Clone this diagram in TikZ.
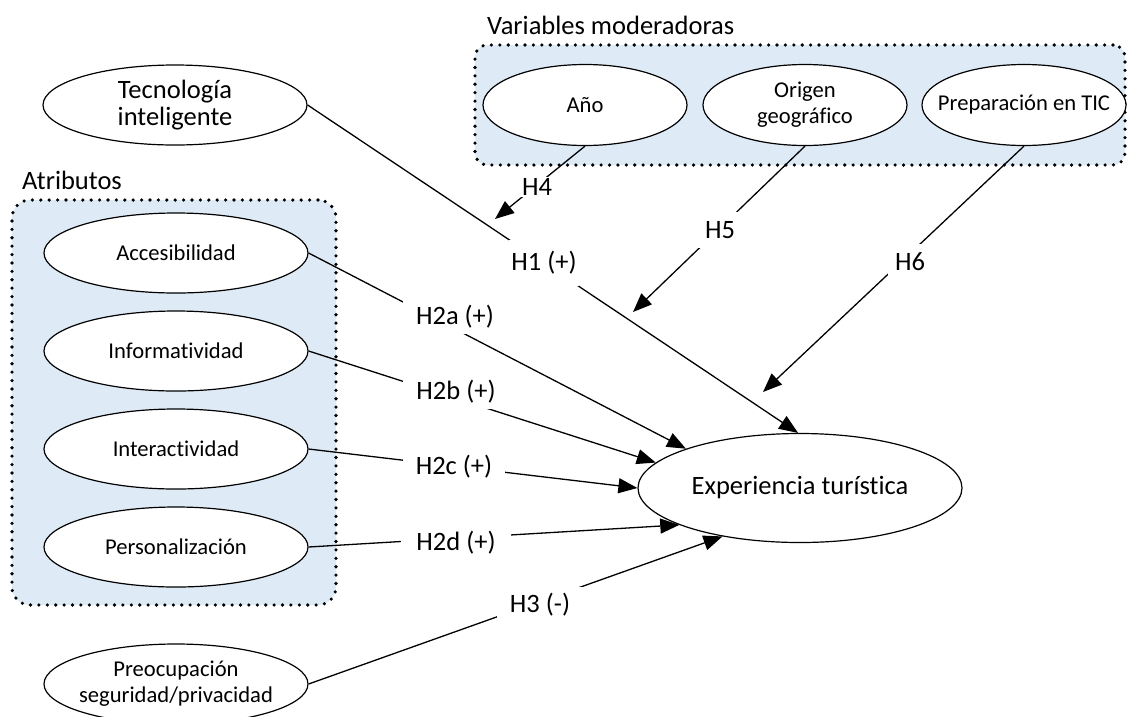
\documentclass[tikz,border=0pt]{standalone}
\usepackage{fontspec}
\setmainfont{Carlito}[Ligatures=NoCommon]
\usetikzlibrary{shapes.geometric,arrows.meta}
\definecolor{boxfill}{RGB}{222,235,247}
\begin{document}
\begin{tikzpicture}[x=1pt,y=-1pt,
  bigtext/.style={font=\fontsize{26.5}{27}\selectfont},
  smalltext/.style={font=\fontsize{22.6}{26}\selectfont},
  oval/.style={ellipse,draw,fill=white,line width=1.2pt,inner sep=0pt},
  wideoval/.style={oval,minimum width=264pt,minimum height=80pt},
  modoval/.style={oval,minimum width=204pt,minimum height=81pt},
  groupbox/.style={rectangle,fill=boxfill,draw,line width=3.6pt,
    dash pattern=on 0pt off 8.4pt,line cap=round,inner sep=0pt},
  link/.style={line width=1.3pt},
  arrow/.style={link,-{Triangle[length=19pt,width=15pt]}},
  hyp/.style={bigtext,fill=white,inner xsep=13pt,inner ysep=5pt},
  modhyp/.style={bigtext,fill=white,inner xsep=7pt,inner ysep=9pt},
  title/.style={bigtext,anchor=west,inner sep=0pt},
]
\useasboundingbox (0,0) rectangle (1127,716);

% grouping boxes
\node[groupbox,rounded corners=18pt,minimum width=324pt,minimum height=405pt]
  (attrbox) at (174,402.5) {};
\node[groupbox,rounded corners=12pt,minimum width=650pt,minimum height=120pt]
  (modbox) at (800,105) {};
\node[title] (attrtitle) at (22,180) {Atributos};
\node[title] (modtitle) at (487,25) {Variables moderadoras};

% constructs
\node[wideoval] (tec) at (175,105) {};
\node[bigtext,align=center] (tect) at (tec) {Tecnología\\inteligente};

\node[wideoval] (acc) at (176,253) {};
\node[smalltext] (acct) at (acc) {Accesibilidad};
\node[wideoval] (inf) at (176,351) {};
\node[smalltext] (inft) at (inf) {Informatividad};
\node[wideoval] (int) at (176,449) {};
\node[smalltext] (intt) at (int) {Interactividad};
\node[wideoval] (per) at (176,547) {};
\node[smalltext] (pert) at (per) {Personalización};

\node[wideoval] (pre) at (176,684) {};
\node[smalltext,align=center] (pret) at (pre) {Preocupación\\seguridad/privacidad};

\node[modoval] (ano) at (585,105) {};
\node[smalltext] (anot) at (ano) {Año};
\node[modoval] (ori) at (805,105) {};
\node[smalltext,align=center] (orit) at (ori) {Origen\\geográfico};
\node[modoval] (prep) at (1024,105) {};
\node[smalltext] (prept) at (prep) {Preparación en TIC};

\node[oval,minimum width=324pt,minimum height=109pt] (exp) at (800,488) {};
\node[bigtext] (expt) at (exp) {Experiencia turística};

% moderation targets on the H1 path
\coordinate (m4) at (495,219);
\coordinate (m5) at (633,312);
\coordinate (m6) at (763,392);

% hypotheses
\draw[arrow] (tec.east) -- (exp.92);
\draw[arrow] (acc.east) -- (exp.161);
\draw[arrow] (inf.east) -- (exp.170);
\draw[arrow] (int.east) -- (exp.180);
\draw[arrow] (per.east) -- (exp.197.5);
\draw[arrow] (pre.east) -- (exp.212.8);
\draw[arrow] (ano.south) -- (m4);
\draw[arrow] (ori.south) -- (m5);
\draw[arrow] (prep.south) -- (m6);

% hypothesis labels
\node[hyp,inner xsep=2pt,inner ysep=11pt] (h1) at (544,263) {H1 (+)};
\node[hyp] (h2a) at (455,317) {H2a (+)};
\node[hyp] (h2b) at (456,392) {H2b (+)};
\node[hyp] (h2c) at (454,467) {H2c (+)};
\node[hyp,inner xsep=15pt] (h2d) at (456,543) {H2d (+)};
\node[hyp,inner ysep=6pt] (h3) at (540,605) {H3 (-)};
\node[modhyp,inner xsep=2.5pt,inner ysep=1.5pt] (h4) at (537,187) {H4};
\node[modhyp] (h5) at (720,230) {H5};
\node[modhyp] (h6) at (910,262) {H6};
\end{tikzpicture}
\end{document}
